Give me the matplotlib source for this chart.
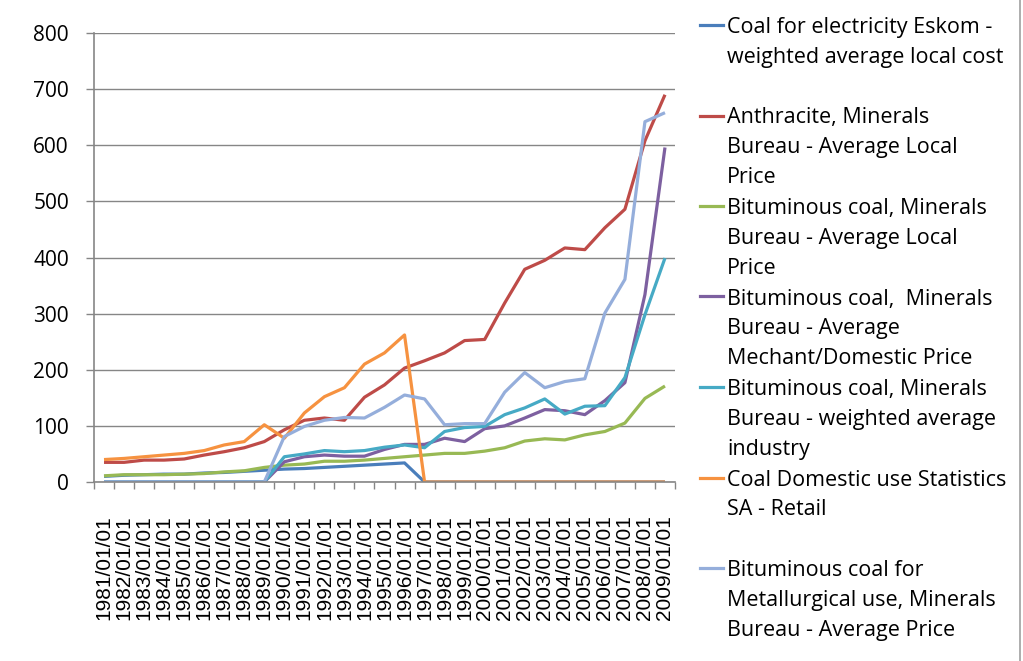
import matplotlib
matplotlib.use('Agg')
import matplotlib.pyplot as plt
from matplotlib.lines import Line2D
import numpy as np

# Categories (years, first of January)
years = list(range(1981, 2010))
dates = [f'{y}/01/01' for y in years]

# Series values
eskom = [10, 12, 13, 14, 14, 16, 17, 19, 21, 23, 24, 26, 28, 30, 32, 34,
         0, 0, 0, 0, 0, 0, 0, 0, 0, 0, 0, 0, 0]
anthracite = [35, 35, 39, 39, 41, 48, 54, 61, 72, 93, 110, 114, 110, 151, 173, 203,
              216, 230, 252, 254, 319, 379, 395, 417, 414, 453, 486, 608, 690]
bit_local = [11, 13, 13, 13, 14, 15, 18, 20, 26, 30, 32, 37, 37, 39, 42, 45,
             48, 51, 51, 55, 61, 73, 77, 75, 84, 90, 105, 149, 171]
bit_merchant = [0, 0, 0, 0, 0, 0, 0, 0, 0, 36, 45, 48, 46, 46, 58, 67,
                67, 78, 72, 95, 100, 114, 129, 127, 120, 145, 177, 334, 596]
bit_industry = [0, 0, 0, 0, 0, 0, 0, 0, 0, 45, 50, 56, 54, 56, 62, 66,
                61, 90, 97, 99, 120, 132, 148, 121, 135, 136, 186, 298, 399]
domestic_retail = [40, 42, 45, 48, 51, 56, 66, 72, 102, 78, 123, 152, 168, 210, 230, 262,
                   0, 0, 0, 0, 0, 0, 0, 0, 0, 0, 0, 0, 0]
metallurgical = [0, 0, 0, 0, 0, 0, 0, 0, 0, 81, 99, 110, 115, 114, 133, 155,
                 148, 102, 104, 104, 160, 195, 168, 179, 184, 301, 361, 642, 658]

series = [eskom, anthracite, bit_local, bit_merchant, bit_industry, domestic_retail, metallurgical]
labels = [
    'Coal for electricity Eskom -\nweighted average local cost',
    'Anthracite, Minerals\nBureau - Average Local\nPrice',
    'Bituminous coal, Minerals\nBureau - Average Local\nPrice',
    'Bituminous coal,  Minerals\nBureau - Average\nMechant/Domestic Price',
    'Bituminous coal, Minerals\nBureau - weighted average\nindustry',
    'Coal Domestic use Statistics\nSA - Retail',
    'Bituminous coal for\nMetallurgical use, Minerals\nBureau - Average Price',
]
colors = ['#4A7EBB', '#BE4B48', '#98B954', '#7D60A0', '#46AAC5', '#F69240', '#95AEDB']
y_ticks = list(range(0, 801, 100))

W, H = 1023, 661
fig = plt.figure(figsize=(W / 100, H / 100), dpi=100)
ax = fig.add_axes([94 / W, 1 - 482 / H, 581 / W, 449 / H])

x = np.arange(len(years))
for vals, c in zip(series, colors):
    ax.plot(x, vals, color=c, lw=2.3, solid_capstyle='butt', solid_joinstyle='round')

grid_c = '#868686'
ax.set_xlim(-0.5, len(years) - 0.5)
ax.set_ylim(0, 800)
ax.set_yticks(y_ticks)
ax.set_yticklabels([str(v) for v in y_ticks], fontfamily='Open Sans', fontsize=15)
ax.yaxis.grid(True, color=grid_c, lw=1.0)
ax.set_axisbelow(True)
ax.tick_params(axis='y', direction='out', length=6, width=1, color=grid_c, pad=12)

ax.set_xticks(x)
ax.set_xticklabels(dates, rotation=90, fontfamily='Liberation Sans', fontsize=15)
ax.tick_params(axis='x', which='major', length=0, pad=24)
ax.set_xticks(np.arange(-0.5, len(years)), minor=True)
ax.tick_params(axis='x', which='minor', direction='out', length=5, width=1, color=grid_c)

for s in ['top', 'right']:
    ax.spines[s].set_visible(False)
for s in ['left', 'bottom']:
    ax.spines[s].set_color(grid_c)
    ax.spines[s].set_linewidth(1.2)

# legend drawn by hand: handle beside first line, fixed slot height
for i, (lab, c) in enumerate(zip(labels, colors)):
    yp = 25 + 90.5 * i
    fig.add_artist(Line2D([700 / W, 723 / W], [1 - yp / H, 1 - yp / H], color=c, lw=2.3))
    fig.text(727 / W, 1 - (yp - 8) / H, lab, fontfamily='Open Sans', fontsize=15.5,
             va='top', ha='left', linespacing=1.55)

fig.add_artist(Line2D([1020 / W, 1020 / W], [0, 1], color='#A0A0A0', lw=1.2))

fig.savefig('out.png', dpi=100)
